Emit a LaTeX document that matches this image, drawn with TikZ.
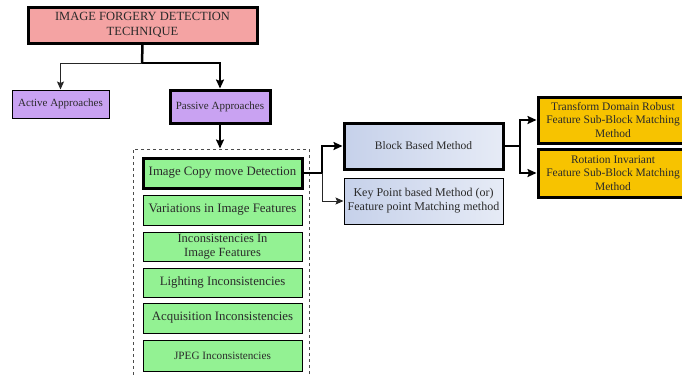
\documentclass[tikz,border=0pt]{standalone}
\usepackage{fontspec}
\setmainfont{Liberation Serif}
\usetikzlibrary{arrows.meta}
\definecolor{titlered}{HTML}{F4A3A3}
\definecolor{purp}{HTML}{C9A2F2}
\definecolor{grn}{HTML}{93F293}
\definecolor{gold}{HTML}{F7C300}
\definecolor{bluel}{HTML}{C6D1EA}
\definecolor{bluer}{HTML}{E6EBF6}
\definecolor{txt}{HTML}{2A2A2A}
\newcommand{\fs}[2]{\fontsize{#1}{#2}\selectfont}
\begin{document}
\begin{tikzpicture}[x=1pt,y=-1pt,
  box/.style={draw=black, inner sep=0pt, align=center, text=txt, line width=1pt},
  heavy/.style={line width=3pt},
  thinc/.style={draw=black!85, line width=1pt, -{Stealth[length=8pt,width=7pt,inset=1.5pt]}},
  thickc/.style={draw=black, line width=2.5pt, -{Stealth[length=9pt,width=8pt,inset=1.5pt]}},
  plain/.style={draw=black, line width=2.5pt},
  redbox/.style={box, fill=titlered, heavy},
  purpbox/.style={box, fill=purp},
  grnbox/.style={box, fill=grn, minimum width=159pt},
  bluebox/.style={box, left color=bluel, right color=bluer, minimum width=159pt, minimum height=46pt},
  goldbox/.style={box, fill=gold, heavy, minimum width=150pt}
]
\useasboundingbox (0,0) rectangle (682,375);
\clip (0,0) rectangle (682,375);
\fill[white] (0,0) rectangle (682,375);

\node[redbox, minimum width=229pt, minimum height=36pt, font=\fs{12.5}{15.5}] (title) at (142.5,25) {IMAGE FORGERY DETECTION\\TECHNIQUE};
\node[purpbox, minimum width=97pt, minimum height=28pt, font=\fs{11}{13}] (active) at (60.5,104) {Active Approaches};
\node[purpbox, heavy, minimum width=100pt, minimum height=33pt, font=\fs{11}{13}] (passive) at (220,106.5) {Passive Approaches};

\node[draw=black!70, dashed, line width=1pt, minimum width=176pt, minimum height=235pt, inner sep=0pt] (group) at (221,266.5) {};

\node[grnbox, heavy, minimum height=30pt, font=\fs{12.8}{14}] (copy) at (222.5,173) {Image Copy move Detection};
\node[grnbox, minimum height=30pt, font=\fs{12.9}{14}] (var) at (222.5,210) {Variations in Image Features};
\node[grnbox, minimum height=29pt, font=\fs{12.5}{14}] (incon) at (222.5,246.5) {Inconsistencies In\\Image Features};
\node[grnbox, minimum height=29pt, font=\fs{12.8}{14}] (light) at (222.5,282.5) {Lighting Inconsistencies};
\node[grnbox, minimum height=30pt, font=\fs{12.8}{14}] (acq) at (222.5,318) {Acquisition Inconsistencies};
\node[grnbox, minimum height=31pt, font=\fs{11.2}{12.5}] (jpeg) at (222.5,355.5) {JPEG Inconsistencies};

\node[bluebox, heavy, font=\fs{11.5}{13}] (block) at (423.5,146) {Block Based Method};
\node[bluebox, font=\fs{12}{14}] (key) at (423.5,201) {Key Point based Method (or)\\Feature point Matching method};

\node[goldbox, minimum height=46pt, font=\fs{11.5}{13.5}] (trans) at (613,120) {Transform Domain Robust\\Feature Sub-Block Matching\\Method};
\node[goldbox, minimum height=48pt, font=\fs{11.5}{13.5}] (rot) at (613,173) {Rotation Invariant\\Feature Sub-Block Matching\\Method};

\coordinate (j1) at (142,63);
\coordinate (j2) at (322,173);
\coordinate (j3) at (520,146);

\draw[plain] (title.south) -- (j1);
\draw[thickc] (j1) -| (passive.north);
\draw[thinc] (j1) -| (active.north);
\draw[thickc] (passive.south) -- (passive.south |- group.north);
\draw[plain] (copy.east) -- (j2);
\draw[thickc] (j2) |- (block.west);
\draw[thinc] (j2) |- (key.west);
\draw[plain] (block.east) -- (j3);
\draw[thickc] (j3) |- (trans.west);
\draw[thickc] (j3) |- (rot.west);
\end{tikzpicture}
\end{document}
